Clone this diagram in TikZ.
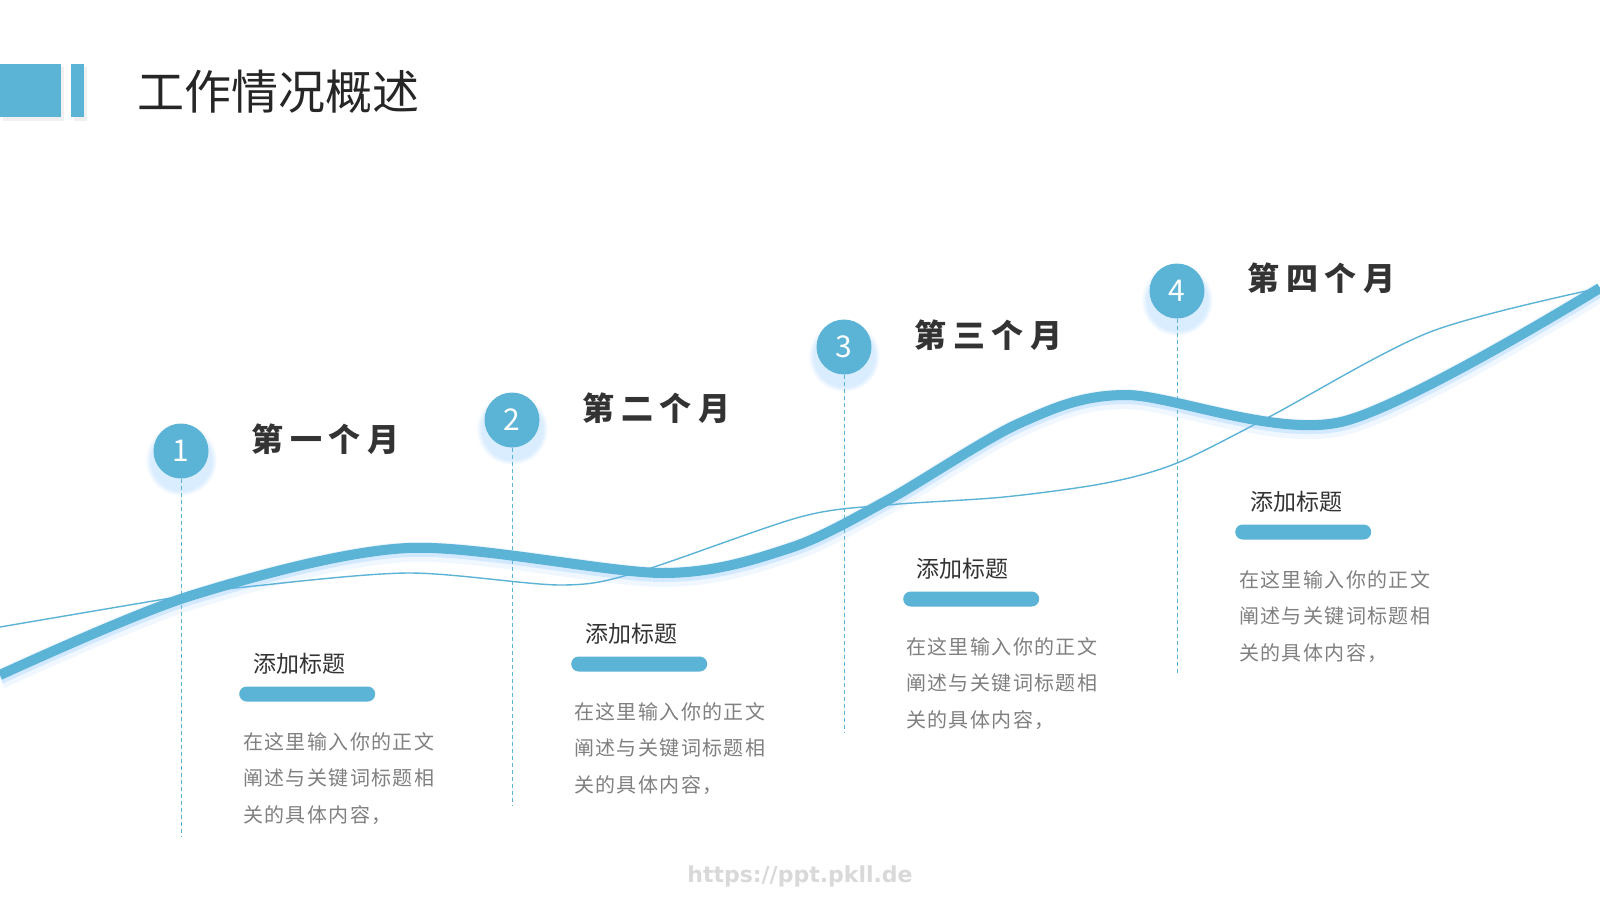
\documentclass[tikz,border=0pt]{standalone}
\usepackage{fontspec}
\usetikzlibrary{positioning, shadows}
\newfontfamily\cjk{Noto Sans CJK SC}
\newfontfamily\cjkwide[LetterSpace=20]{Noto Sans CJK SC}
\newfontfamily\cjktext[LetterSpace=7]{Noto Sans CJK SC}
\newfontfamily\urlfont{DejaVu Sans}
\definecolor{skyblue}{RGB}{91,179,214}
\definecolor{glowblue}{RGB}{110,185,255}
\definecolor{inkgray}{RGB}{51,51,51}
\definecolor{textgray}{RGB}{128,128,128}

\begin{document}
\begin{tikzpicture}[
    x=1pt, y=-1pt,
    dot/.style={circle, fill=skyblue, minimum size=55pt, inner sep=0pt, text=white,
      font=\cjk\fontsize{30}{30}\selectfont,
      circular drop shadow={shadow xshift=0pt, shadow yshift=-7pt, shadow scale=1.3, fill=glowblue, opacity=0.25}},
    month/.style={font=\cjkwide\bfseries\fontsize{32}{32}\selectfont, text=inkgray, inner sep=0pt},
    heading/.style={font=\cjk\fontsize{23}{23}\selectfont, text=inkgray, inner sep=0pt, anchor=west},
    bar/.style={fill=skyblue, rounded corners=7.5pt, minimum width=136pt, minimum height=15pt, inner sep=0pt, anchor=west},
    body/.style={font=\cjktext\fontsize{20}{36.5}\selectfont, text=textgray, align=left, inner sep=0pt, anchor=north west},
    guide/.style={draw=skyblue, line width=0.8pt, dash pattern=on 4pt off 3pt},
    thread/.style={draw=skyblue, line width=1.4pt},
    wave/.style={draw=skyblue, line width=10pt}
  ]
  \useasboundingbox (0,0) rectangle (1600,900);
  \fill[white] (0,0) rectangle (1600,900);

  % Title block
  \fill[black, opacity=0.06] (3,67) rectangle (64,121);
  \fill[black, opacity=0.06] (74,67) rectangle (87,121);
  \fill[skyblue] (0,64) rectangle (61,117);
  \fill[skyblue] (71,64) rectangle (84,117);
  \node (title) [anchor=west, inner sep=0pt, font=\cjk\fontsize{47}{47}\selectfont, text=black!85] at (137,92) {工作情况概述};

  % Month markers
  \node (c1) [dot] at (181,451) {1};
  \node (c2) [dot] at (512,420) {2};
  \node (c3) [dot] at (844,347) {3};
  \node (c4) [dot] at (1177,291) {4};

  \node (m1) [month, right=43pt of c1, anchor=west, yshift=12pt] {第一个月};
  \node (m2) [month, right=43pt of c2, anchor=west, yshift=12pt] {第二个月};
  \node (m3) [month, right=43pt of c3, anchor=west, yshift=12pt] {第三个月};
  \node (m4) [month, right=43pt of c4, anchor=west, yshift=13pt] {第四个月};

  % Guide lines
  \coordinate (g1) at (181,837);
  \coordinate (g2) at (512,806);
  \coordinate (g3) at (844,732);
  \coordinate (g4) at (1177,673);
  \draw[guide] (c1) -- (g1);
  \draw[guide] (c2) -- (g2);
  \draw[guide] (c3) -- (g3);
  \draw[guide] (c4) -- (g4);

  % Curves
  \draw[thread] plot[smooth] coordinates {(0,627) (189,595) (245,587) (408,573) (561,585) (638,572) (800,517) (887,505) (1004,497) (1106,483) (1177,463) (1269,417) (1430,332) (1600,288)};
  \draw[wave,
    preaction={draw=glowblue, line width=20pt, opacity=0.10, transform canvas={yshift=-4pt}},
    preaction={draw=glowblue, line width=14pt, opacity=0.22, transform canvas={yshift=-2pt}}]
    plot[smooth] coordinates {(0,675) (190,596) (408,548) (663,573) (790,548) (888,500) (1020,423) (1126,395) (1341,422) (1600,288)};

  % Text blocks
  \node (h1) [heading] at (253,664) {添加标题};
  \node (b1) [bar] at (239,694) {};
  \node (t1) [body] at (243,732) {在这里输入你的正文\\阐述与关键词标题相\\关的具体内容，};

  \node (h2) [heading] at (585,634) {添加标题};
  \node (b2) [bar] at (571,664) {};
  \node (t2) [body] at (574,702) {在这里输入你的正文\\阐述与关键词标题相\\关的具体内容，};

  \node (h3) [heading] at (916,569) {添加标题};
  \node (b3) [bar] at (903,599) {};
  \node (t3) [body] at (906,637) {在这里输入你的正文\\阐述与关键词标题相\\关的具体内容，};

  \node (h4) [heading] at (1250,502) {添加标题};
  \node (b4) [bar] at (1235,532) {};
  \node (t4) [body] at (1239,570) {在这里输入你的正文\\阐述与关键词标题相\\关的具体内容，};

  % Watermark
  \node (url) [font=\urlfont\bfseries\fontsize{22}{22}\selectfont, text=black!15] at (800,876) {https://ppt.pkll.de};
\end{tikzpicture}
\end{document}
